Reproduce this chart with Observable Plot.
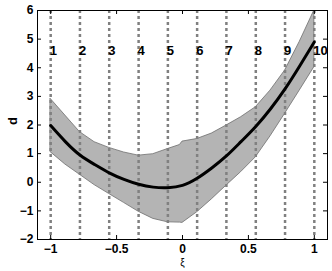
<!DOCTYPE html>
<html>
<head>
<meta charset="utf-8">
<script src="https://cdn.jsdelivr.net/npm/d3@7"></script>
<script src="https://cdn.jsdelivr.net/npm/@observablehq/plot@0.6"></script>
<style>
  html, body { margin: 0; padding: 0; background: #fff; }
  #chart { width: 332px; height: 271px; }
</style>
</head>
<body>
<div id="chart"></div>
<script>
// Element boundary positions and their labels
const linePos = [-1, -0.778, -0.556, -0.333, -0.111, 0.111, 0.333, 0.556, 0.778, 1];
const lineLabels = ["1", "2", "3", "4", "5", "6", "7", "8", "9", "10"];

// Mean curve
const meanX = [-1, -0.889, -0.778, -0.667, -0.556, -0.444, -0.333, -0.222, -0.111, 0, 0.111, 0.222, 0.333, 0.444, 0.556, 0.667, 0.778, 0.889, 1];
const meanY = [1.98, 1.42, 0.95, 0.62, 0.33, 0.1, -0.07, -0.17, -0.19, -0.11, 0.14, 0.5, 0.92, 1.42, 1.95, 2.56, 3.26, 4.06, 4.9];

// Band (lower / upper)
const bandX  = [-1, -0.889, -0.778, -0.667, -0.556, -0.444, -0.333, -0.222, -0.111, -0.02, 0, 0.111, 0.222, 0.333, 0.444, 0.556, 0.667, 0.778, 0.889, 1];
const bandHi = [2.91, 2.33, 1.75, 1.4, 1.2, 1.04, 0.93, 0.98, 1.16, 1.3, 1.42, 1.51, 1.7, 1.98, 2.27, 2.62, 3.2, 3.9, 4.9, 6.0];
const bandLo = [1.05, 0.62, 0.26, -0.1, -0.41, -0.72, -1.03, -1.28, -1.4, -1.41, -1.42, -1.05, -0.6, -0.12, 0.35, 0.87, 1.6, 2.39, 3.2, 4.02];

// Axis ticks
const xTicks = [-1, -0.5, 0, 0.5, 1];
const yTicks = [-2, -1, 0, 1, 2, 3, 4, 5, 6];

const band = bandX.map((x, i) => ({x, lo: bandLo[i], hi: bandHi[i]}));
const mean = meanX.map((x, i) => ({x, y: meanY[i]}));
const lines = linePos.map((x, i) => ({x, label: lineLabels[i]}));
const fmt = d => String(d).replace("-", "\u2212");

const W = 332, H = 271, mL = 37, mR = 5, mT = 10, mB = 32;
const pw = W - mL - mR, ph = H - mT - mB;

const chart = Plot.plot({
  width: W, height: H,
  marginLeft: mL, marginRight: mR, marginTop: mT, marginBottom: mB,
  style: {fontFamily: "'Liberation Sans', Arial, sans-serif", fontWeight: "bold", fontSize: "12px", background: "#fff"},
  x: {domain: [-1.1, 1.1]},
  y: {domain: [-2, 6]},
  marks: [
    Plot.areaY(band, {x: "x", y1: "lo", y2: "hi", fill: "#b4b4b4", stroke: "#6e6e6e", strokeWidth: 0.8}),
    Plot.ruleX(lines, {x: "x", stroke: "#808080", strokeWidth: 2.5, strokeDasharray: "3,3"}),
    Plot.line(mean, {x: "x", y: "y", stroke: "#000", strokeWidth: 3, curve: "natural"}),
    Plot.text(lines, {x: "x", text: "label", frameAnchor: "top", dy: 35, textAnchor: "start", dx: -1, fill: "#000", fontSize: 13}),
    Plot.tickY(yTicks, {y: d => d, insetRight: pw - 4, stroke: "#000"}),
    Plot.tickY(yTicks, {y: d => d, insetLeft: pw - 4, stroke: "#000"}),
    Plot.tickX(xTicks, {x: d => d, insetTop: ph - 4, stroke: "#000"}),
    Plot.tickX(xTicks, {x: d => d, insetBottom: ph - 4, stroke: "#000"}),
    Plot.axisY(yTicks, {anchor: "left", tickSize: 0, tickPadding: 4, label: null, fontSize: 12, tickFormat: fmt}),
    Plot.axisX(xTicks, {anchor: "bottom", tickSize: 0, tickPadding: 5, label: null, fontSize: 12, tickFormat: fmt}),
    Plot.text(["d"], {frameAnchor: "left", dx: -25, rotate: -90, fontSize: 13, fill: "#000"}),
    Plot.text(["ξ"], {x: 0, frameAnchor: "bottom", dy: 26, fontSize: 10, fontWeight: "normal", fill: "#000"}),
    Plot.frame({stroke: "#000"})
  ]
});
document.getElementById("chart").appendChild(chart);
</script>
</body>
</html>
